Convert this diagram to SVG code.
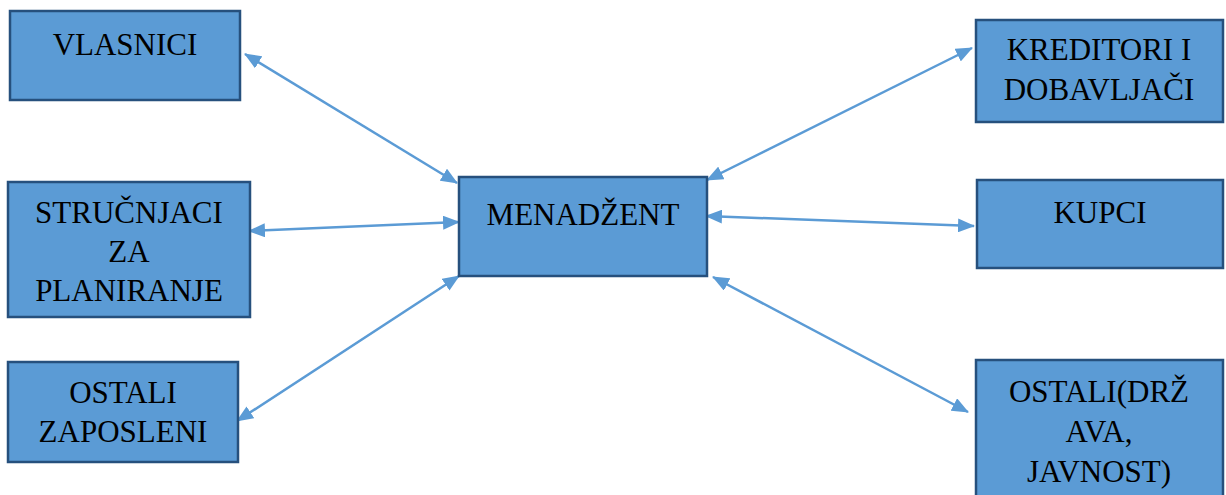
<svg xmlns="http://www.w3.org/2000/svg" width="1226" height="495" viewBox="0 0 1226 495">
<defs>
<style>
.box{fill:#5B9BD5;stroke:#26507D;stroke-width:2.5}
.t{fill:#000;text-anchor:middle}
.c{stroke:#5B9BD5;stroke-width:2.5;fill:none}
</style>
<marker id="ah" markerUnits="userSpaceOnUse" markerWidth="17" markerHeight="14" viewBox="0 0 17 14" refX="16" refY="7" orient="auto-start-reverse">
<path d="M0,0 L17,7 L0,14 z" fill="#5B9BD5"/>
</marker>
</defs>
<rect width="1226" height="495" fill="#fff"/>
<g id="connectors" marker-start="url(#ah)" marker-end="url(#ah)">
<line class="c" x1="245" y1="54" x2="457" y2="183" marker-start="url(#ah)" marker-end="url(#ah)"/>
<line class="c" x1="249" y1="231" x2="459" y2="222" marker-start="url(#ah)" marker-end="url(#ah)"/>
<line class="c" x1="237" y1="421" x2="459" y2="276" marker-start="url(#ah)" marker-end="url(#ah)"/>
<line class="c" x1="707" y1="180" x2="972" y2="48" marker-start="url(#ah)" marker-end="url(#ah)"/>
<line class="c" x1="706" y1="216" x2="974" y2="226" marker-start="url(#ah)" marker-end="url(#ah)"/>
<line class="c" x1="713" y1="277" x2="968" y2="412" marker-start="url(#ah)" marker-end="url(#ah)"/>
</g>
<g font-family="Liberation Serif, Times New Roman, serif" font-size="31">
<g id="vlasnici">
<rect class="box" x="10" y="11" width="230" height="89"/>
<text class="t" x="125" y="55">VLASNICI</text>
</g>
<g id="strucnjaci">
<rect class="box" x="8" y="182" width="242" height="135"/>
<text class="t" x="129" y="223">STRUČNJACI</text>
<text class="t" x="129" y="262">ZA</text>
<text class="t" x="129" y="301">PLANIRANJE</text>
</g>
<g id="ostali-zaposleni">
<rect class="box" x="8" y="362" width="230" height="100"/>
<text class="t" x="123" y="403">OSTALI</text>
<text class="t" x="123" y="442">ZAPOSLENI</text>
</g>
<g id="menadzent">
<rect class="box" x="459" y="177" width="248" height="99"/>
<text class="t" x="583" y="225">MENADŽENT</text>
</g>
<g id="kreditori">
<rect class="box" x="976" y="20" width="247" height="102"/>
<text class="t" x="1099" y="60">KREDITORI I</text>
<text class="t" x="1099" y="100">DOBAVLJAČI</text>
</g>
<g id="kupci">
<rect class="box" x="977" y="180" width="246" height="88"/>
<text class="t" x="1100" y="223">KUPCI</text>
</g>
<g id="ostali-drzava">
<rect class="box" x="976" y="360" width="247" height="140"/>
<text class="t" x="1099" y="402">OSTALI(DRŽ</text>
<text class="t" x="1099" y="442">AVA,</text>
<text class="t" x="1099" y="482">JAVNOST)</text>
</g>
</g>
</svg>
